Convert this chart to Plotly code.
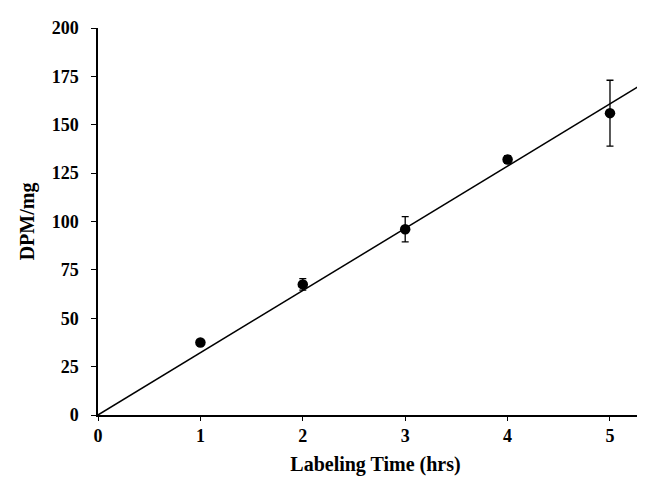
import numpy as np
import plotly.graph_objects as go

# Data
hours = [1, 2, 3, 4, 5]
dpm_per_mg = [37.5, 67.5, 96, 132, 156]
dpm_err = [1.5, 3, 6.5, 2, 17]
x_max = 5.42
y_ticks = [0, 25, 50, 75, 100, 125, 150, 175, 200]
x_ticks = [0, 1, 2, 3, 4, 5]

# Linear fit through origin
x = np.array(hours, dtype=float)
y = np.array(dpm_per_mg, dtype=float)
slope = float((x * y).sum() / (x * x).sum())
fit_x = [0, x_max]
fit_y = [slope * v for v in fit_x]

font = "Liberation Serif"

fig = go.Figure()
fig.add_trace(go.Scatter(
    x=fit_x, y=fit_y, mode="lines",
    line=dict(color="black", width=1.5), showlegend=False, hoverinfo="skip",
))
fig.add_trace(go.Scatter(
    x=hours, y=dpm_per_mg, mode="markers",
    marker=dict(color="black", size=10.5),
    error_y=dict(type="data", array=dpm_err, color="black", thickness=1.3, width=3.5),
    showlegend=False,
))

fig.update_layout(
    width=645, height=478,
    margin=dict(l=90, r=0, t=20, b=71),
    paper_bgcolor="white", plot_bgcolor="white",
    font=dict(family=font, color="black"),
)
fig.update_xaxes(
    range=[0, x_max], tickvals=x_ticks, ticktext=[str(v) for v in x_ticks],
    showgrid=False, zeroline=False, showline=True, linecolor="black", linewidth=1.5,
    ticks="outside", ticklen=4, tickwidth=1.2, tickcolor="black",
    tickfont=dict(family=font, size=18, color="black", weight="bold"),
    title=dict(text="<b>Labeling Time (hrs)</b>", font=dict(family=font, size=20, color="black"), standoff=12),
)
fig.update_yaxes(
    range=[0, 200], tickvals=y_ticks, ticktext=[str(v) for v in y_ticks],
    showgrid=False, zeroline=False, showline=True, linecolor="black", linewidth=1.5,
    ticks="outside", ticklen=5, tickwidth=1.2, tickcolor="black", ticklabelstandoff=9,
    tickfont=dict(family=font, size=18, color="black", weight="bold"),
    title=dict(text="<b>DPM/mg</b>", font=dict(family=font, size=20, color="black"), standoff=12),
)

fig.write_html("out.html")
